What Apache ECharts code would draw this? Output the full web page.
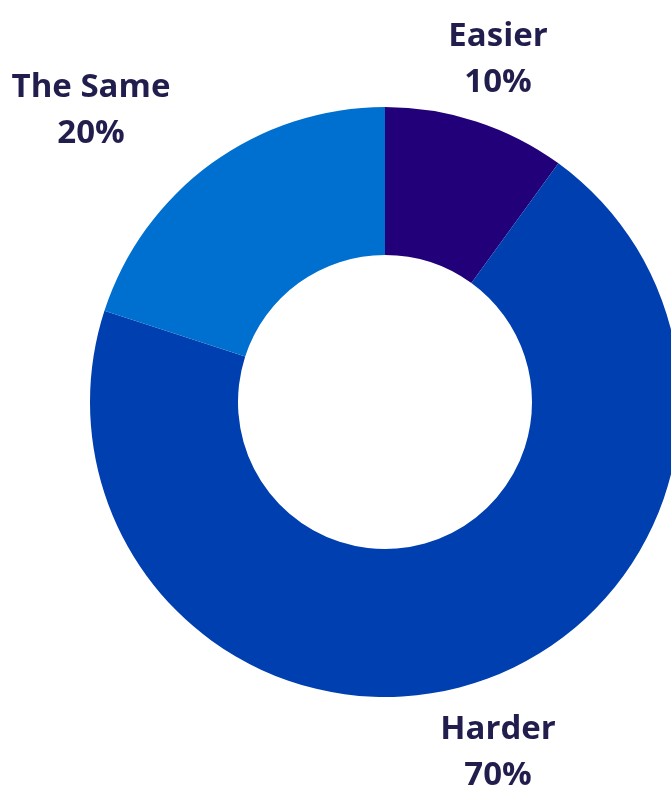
<!DOCTYPE html>
<html>
<head>
<meta charset="utf-8">
<script src="https://cdn.jsdelivr.net/npm/echarts@6/dist/echarts.min.js"></script>
<style>
  html, body { margin: 0; padding: 0; background: #ffffff; }
  #chart { width: 671px; height: 787px; }
</style>
</head>
<body>
<div id="chart"></div>
<script>
// Survey answers: how things have changed
const categories = ['Easier', 'Harder', 'The Same'];
const shares = [10, 70, 20];
const sliceColors = ['#22007a', '#003fb0', '#0070d0'];

// Where each category's label block is centred
const labelSpots = {
  'Easier':   { x: 498, y: 60 },
  'Harder':   { x: 498, y: 753 },
  'The Same': { x: 91,  y: 111 }
};

const chart = echarts.init(document.getElementById('chart'), null, { renderer: 'canvas' });

chart.setOption({
  animation: false,
  series: [{
    type: 'pie',
    center: [385, 402],
    radius: [147, 295],
    startAngle: 90,
    clockwise: true,
    avoidLabelOverlap: false,
    data: categories.map((name, i) => ({
      name: name,
      value: shares[i],
      itemStyle: { color: sliceColors[i] }
    })),
    label: {
      show: true,
      position: 'outside',
      formatter: '{b}\n{c}%',
      fontFamily: '"Open Sans", "Noto Sans", sans-serif',
      fontWeight: 'bold',
      fontSize: 33,
      lineHeight: 46,
      color: '#211e4e',
      align: 'center'
    },
    labelLine: { show: false },
    labelLayout: function (params) {
      const spot = labelSpots[categories[params.dataIndex]];
      return {
        x: spot.x,
        y: spot.y,
        align: 'center',
        verticalAlign: 'middle'
      };
    }
  }]
});
</script>
</body>
</html>
